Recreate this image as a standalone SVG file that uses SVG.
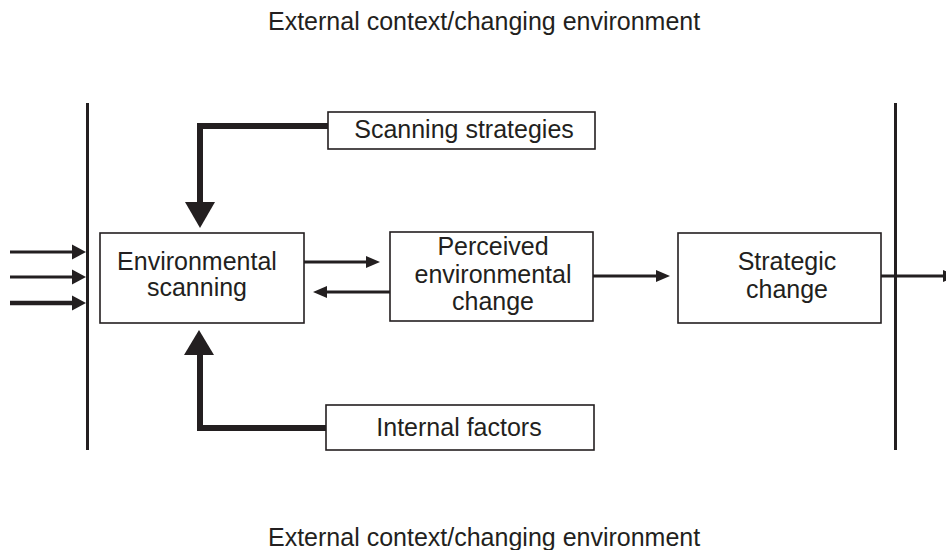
<svg xmlns="http://www.w3.org/2000/svg" width="946" height="550" viewBox="0 0 946 550">
<style>
.box{fill:#fff;stroke:#231f20;stroke-width:1.6}
.t{font-family:"Liberation Sans",Arial,sans-serif;font-size:25px;fill:#231f20;text-anchor:middle}
.ln{stroke:#231f20;stroke-width:3;fill:none}
.thk{stroke:#231f20;stroke-width:6;fill:none}
.hd{fill:#231f20}
</style>
<rect width="946" height="550" fill="#fff"/>
<text class="t" x="268" y="30" style="text-anchor:start">External context/changing environment</text>
<text class="t" x="268" y="546" style="text-anchor:start">External context/changing environment</text>
<g id="connectors">
<line class="ln" x1="87.5" y1="103" x2="87.5" y2="450"/>
<line class="ln" x1="895.5" y1="103" x2="895.5" y2="450"/>
<line class="ln" x1="10" y1="252" x2="74" y2="252"/>
<polygon class="hd" points="72,244.5 86,252 72,259.5"/>
<line class="ln" x1="10" y1="277" x2="74" y2="277"/>
<polygon class="hd" points="72,269.5 86,277 72,284.5"/>
<line class="ln" x1="10" y1="303" x2="74" y2="303" style="stroke-width:4.5"/>
<polygon class="hd" points="72,295.5 86,303 72,310.5"/>
<polyline class="thk" points="328,126 200,126 200,204"/>
<polygon class="hd" points="185,202 215,202 200,228"/>
<polyline class="thk" points="326,428 200,428 200,353"/>
<polygon class="hd" points="184,355 214,355 199,330"/>
<line class="ln" x1="304" y1="262" x2="368" y2="262"/>
<polygon class="hd" points="366,256 380,262 366,268"/>
<line class="ln" x1="390" y1="292" x2="325" y2="292"/>
<polygon class="hd" points="327,286 313,292 327,298"/>
<line class="ln" x1="593" y1="276" x2="658" y2="276"/>
<polygon class="hd" points="656,270 670,276 656,282"/>
<line class="ln" x1="881" y1="276" x2="946" y2="276"/>
<polygon class="hd" points="943,270 957,276 943,282"/>
</g>
<g id="scanning-strategies">
<rect class="box" x="328" y="112" width="267" height="37"/>
<text class="t" x="464" y="138">Scanning strategies</text>
</g>
<g id="environmental-scanning">
<rect class="box" x="100" y="233" width="204" height="90"/>
<text class="t" x="197" y="270">Environmental</text>
<text class="t" x="197" y="296">scanning</text>
</g>
<g id="perceived-change">
<rect class="box" x="390" y="232" width="203" height="89"/>
<text class="t" x="493" y="255">Perceived</text>
<text class="t" x="493" y="283">environmental</text>
<text class="t" x="493" y="310">change</text>
</g>
<g id="strategic-change">
<rect class="box" x="678" y="233" width="203" height="90"/>
<text class="t" x="787" y="270">Strategic</text>
<text class="t" x="787" y="298">change</text>
</g>
<g id="internal-factors">
<rect class="box" x="326" y="405" width="268" height="45"/>
<text class="t" x="459" y="436">Internal factors</text>
</g>
</svg>
